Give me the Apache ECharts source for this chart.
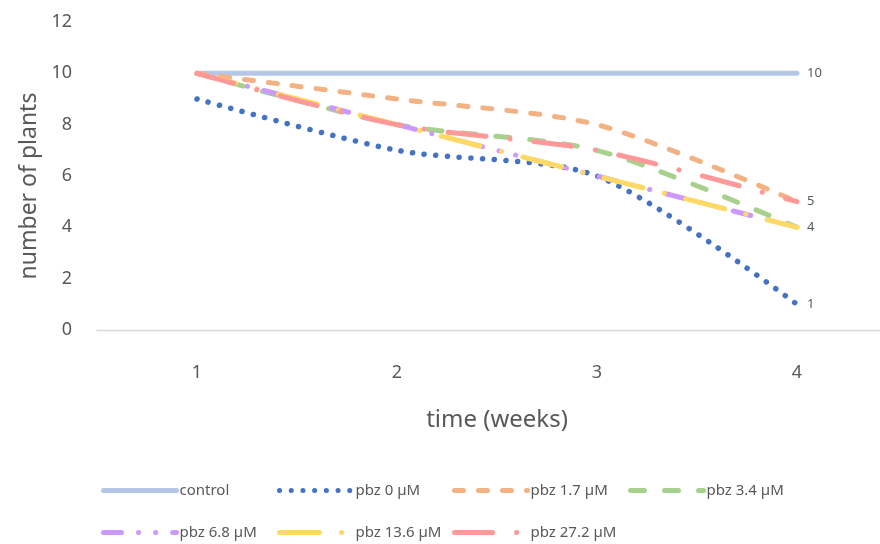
<!DOCTYPE html>
<html>
<head>
<meta charset="utf-8">
<script src="https://cdn.jsdelivr.net/npm/echarts@6/dist/echarts.min.js"></script>
<style>
  html, body { margin: 0; padding: 0; background: #ffffff; }
  #chart { width: 880px; height: 544px; }
</style>
</head>
<body>
<div id="chart"></div>
<script>
// Weeks after treatment
const weeks = ['1', '2', '3', '4'];

// Surviving plants per treatment
const control = [10, 10, 10, 10];
const pbz0 = [9, 7, 6, 1];
const pbz1_7 = [10, 9, 8, 5];
const pbz3_4 = [10, 8, 7, 4];
const pbz6_8 = [10, 8, 6, 4];
const pbz13_6 = [10, 8, 6, 4];
const pbz27_2 = [10, 8, 7, 5];

// Series that carry a value label on their final point
const labelledSeries = ['control', 'pbz 0 µM', 'pbz 1.7 µM', 'pbz 3.4 µM'];

const FONT = '"Noto Sans", "DejaVu Sans", sans-serif';
const GREY = '#595959';

const seriesDefs = [
  { name: 'control', data: control, color: '#b4c7e7', dash: 'solid' },
  { name: 'pbz 0 µM', data: pbz0, color: '#4472c4', dash: [0.1, 11.6], width: 5.5 },
  { name: 'pbz 1.7 µM', data: pbz1_7, color: '#f4b183', dash: [9, 15] },
  { name: 'pbz 3.4 µM', data: pbz3_4, color: '#a9d18e', dash: [14, 20] },
  { name: 'pbz 6.8 µM', data: pbz6_8, color: '#cc99ff', dash: [18, 17, 0.1, 17, 0.1, 17] },
  { name: 'pbz 13.6 µM', data: pbz13_6, color: '#ffd966', dash: [40, 22, 0.1, 22] },
  { name: 'pbz 27.2 µM', data: pbz27_2, color: '#ff9999', dash: [38, 24, 0.1, 24] }
];

const series = seriesDefs.map(d => ({
  name: d.name,
  type: 'line',
  smooth: 0.27,
  symbol: 'none',
  color: d.color,
  lineStyle: {
    color: d.color,
    width: d.width || 5,
    type: d.dash,
    cap: 'round',
    join: 'round'
  },
  data: d.data,
  endLabel: {
    show: labelledSeries.includes(d.name),
    formatter: '{c}',
    distance: 10,
    color: GREY,
    fontSize: 13,
    fontFamily: FONT
  },
  animation: false
}));

// One legend block per entry, laid out in two rows
const legendSlots = [
  [101, 491], [277, 491], [452, 491], [628, 491],
  [101, 533], [277, 533], [452, 533]
];
const legends = seriesDefs.map((d, i) => ({
  data: [d.name],
  left: legendSlots[i][0],
  top: legendSlots[i][1] - 8,
  padding: 0,
  itemWidth: 73,
  itemHeight: 16,
  itemGap: 4,
  selectedMode: false,
  itemStyle: { opacity: 0 },
  lineStyle: { width: 5, cap: 'round' },
  textStyle: { color: GREY, fontSize: 15, fontFamily: FONT, padding: [0, 0, 0, -2] }
}));

const chart = echarts.init(document.getElementById('chart'), null, { renderer: 'canvas' });
chart.setOption({
  backgroundColor: '#ffffff',
  animation: false,
  legend: legends,
  grid: {
    left: 97, width: 800, top: 22, bottom: 214,
    containLabel: false,
    outerBoundsMode: 'none'
  },
  xAxis: {
    type: 'category',
    data: weeks,
    boundaryGap: true,
    axisLine: { show: true, lineStyle: { color: '#d9d9d9', width: 1.3 } },
    axisTick: { show: false },
    axisLabel: { color: GREY, fontSize: 18, fontFamily: FONT, margin: 34 },
    name: 'time (weeks)',
    nameLocation: 'middle',
    nameGap: 78,
    nameTextStyle: { color: GREY, fontSize: 24, fontFamily: FONT }
  },
  yAxis: {
    type: 'value',
    min: 0,
    max: 12,
    interval: 2,
    axisLine: { show: false },
    axisTick: { show: false },
    splitLine: { show: false },
    axisLabel: { color: GREY, fontSize: 18, fontFamily: FONT, margin: 25 },
    name: 'number of plants',
    nameLocation: 'middle',
    nameGap: 56,
    nameTextStyle: { color: GREY, fontSize: 23, fontFamily: FONT, padding: [0, 20, 0, 0] }
  },
  series: series
});
</script>
</body>
</html>
